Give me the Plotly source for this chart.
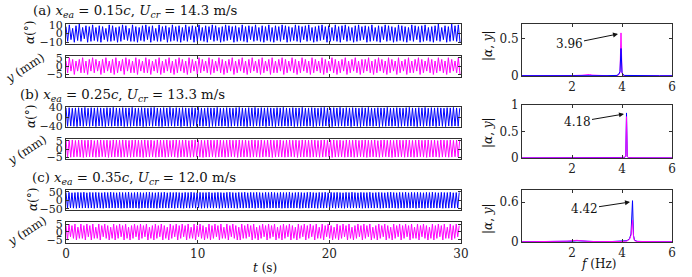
import numpy as np
import plotly.graph_objects as go

W, H = 692, 277

# ---------------- data ----------------
# flutter frequencies (Hz) read from annotations
FREQ = [3.96, 4.18, 4.42]
CASE_TITLES = ["(a)", "(b)", "(c)"]
X_EA = ["0.15", "0.25", "0.35"]
U_CR = ["14.3", "13.3", "12.0"]

# successive extremes (peaks / troughs) of the time histories
ALPHA_A = [
 8,-9,10,-7,6,-10,9,-8,11,-9,7,-6,9,-10,8,-9,10,-8,7,-9,
 9,-10,8,-7,6,-9,10,-9,9,-8,7,-10,8,-9,10,-7,9,-8,6,-9,
 10,-9,8,-10,7,-8,9,-9,10,-7,8,-10,9,-8,6,-9,10,-9,8,-7,
 9,-10,7,-9,10,-8,8,-9,9,-10,7,-8,10,-9,8,-7,9,-10,8,-9,
 10,-8,7,-9,9,-10,8,-7,10,-9,9,-8,7,-10,8,-9,10,-8,9,-7,
 8,-10,9,-9,7,-8,10,-9,8,-10,9,-7,8,-9,10,-8,7,-9,9,-10,
 8,-8,10,-9,7,-10,9,-8,8,-9,10,-7,9,-10,8,-9,7,-8,10,-9,
 9,-10,8,-7,9,-9,10,-8,7,-10,8,-9,9,-8,10,-7,8,-10,9,-9,
 7,-8,10,-9,8,-10,9,-7,10,-9,8,-8,7,-10,9,-9,10,-8,8,-7,
 9,-10,8,-9,10,-8,7,-9,9,-10,8,-7,10,-9,9,-8,8,-10,7,-9,
 10,-8,9,-9,8,-10,7,-8,10,-9,9,-7,8,-10,9,-9,10,-8,7,-9,
 8,-10,9,-8,11,-9,7,-7,9,-10,8,-9,11,-8,9,-9,10,-10
]
Y_A = [
 3,-4,5,-3,4,-5,3,-3,4,-4,5,-4,3,-5,4,-3,5,-4,4,-3,
 3,-5,4,-4,5,-3,3,-4,4,-5,5,-4,3,-3,4,-5,5,-3,4,-4,
 3,-4,5,-5,4,-3,3,-4,5,-4,4,-5,3,-3,4,-4,5,-5,3,-4,
 4,-3,5,-4,3,-5,4,-4,5,-3,4,-4,3,-5,5,-4,4,-3,3,-5,
 5,-4,4,-3,3,-4,5,-5,4,-4,3,-3,5,-4,4,-5,3,-4,4,-3,
 5,-5,3,-4,4,-3,5,-4,3,-5,4,-4,5,-3,3,-4,4,-5,5,-4,
 3,-3,4,-5,5,-4,3,-4,4,-3,5,-5,4,-4,3,-3,5,-4,4,-5,
 3,-4,5,-3,4,-4,3,-5,5,-4,4,-3,3,-4,5,-5,4,-4,3,-3,
 5,-4,4,-5,3,-4,4,-3,5,-5,3,-4,4,-3,5,-4,3,-5,4,-4,
 4,-3,5,-4,3,-5,4,-4,5,-3,4,-4,3,-5,5,-4,4,-3,3,-5,
 5,-4,3,-3,4,-5,5,-4,3,-4,4,-3,5,-5,4,-4,3,-3,5,-4,
 4,-5,3,-4,5,-3,4,-4,3,-5,5,-4,4,-3,3,-4,5,-5
]
ALPHA_B = [
 38,-39,39,-38,37,-39,38,-40,39,-38,38,-39,40,-38,37,-39,39,-38,38,-40,
 39,-38,38,-39,37,-40,39,-38,38,-39,40,-38,38,-39,37,-38,39,-40,38,-39,
 38,-39,40,-38,37,-39,38,-38,39,-40,38,-39,37,-38,39,-39,40,-38,38,-39,
 37,-40,39,-38,38,-39,40,-38,37,-39,39,-38,38,-40,39,-38,38,-39,37,-40,
 39,-38,38,-39,40,-38,38,-39,37,-38,39,-40,38,-39,38,-39,40,-38,37,-39,
 38,-38,39,-40,38,-39,37,-38,39,-39,40,-38,38,-39,37,-40,39,-38,38,-39,
 40,-38,37,-39,39,-38,38,-40,39,-38,38,-39,37,-40,39,-38,38,-39,40,-38,
 38,-39,37,-38,39,-40,38,-39,38,-39,40,-38,37,-39,38,-38,39,-40,38,-39,
 37,-38,39,-39,40,-38,38,-39,37,-40,39,-38,38,-39,40,-38,37,-39,39,-38,
 38,-40,39,-38,38,-39,37,-40,39,-38,38,-39,40,-38,38,-39,37,-38,39,-40,
 38,-39,38,-39,40,-38,37,-39,38,-38,39,-40,38,-39,37,-38,39,-39,40,-38,
 38,-39,37,-40,39,-38,38,-39,40,-38,37,-39,39,-38,38,-40,39,-38,38,-39,
 37,-40,39,-38,38,-39,40,-38,38,-39,37
]
Y_B = [
 5.5,-5,5.4,-5.1,5.6,-5,5.3,-4.8,5.5,-5,5.6,-5.2,5.4,-5,5.5,-4.9,5.6,-5,5.2,-5.1,
 5.5,-5,5.6,-4.8,5.4,-5,5.5,-5.2,5.3,-5,5.6,-5,5.5,-4.9,5.4,-5.1,5.6,-5,5.5,-5,
 5.3,-5.1,5.5,-5,5.6,-4.8,5.4,-5,5.5,-5.2,5.6,-5,5.4,-5,5.5,-4.9,5.2,-5.1,5.6,-5,
 5.5,-5,5.4,-5.1,5.6,-5,5.3,-4.8,5.5,-5,5.6,-5.2,5.4,-5,5.5,-4.9,5.6,-5,5.2,-5.1,
 5.5,-5,5.6,-4.8,5.4,-5,5.5,-5.2,5.3,-5,5.6,-5,5.5,-4.9,5.4,-5.1,5.6,-5,5.5,-5,
 5.3,-5.1,5.5,-5,5.6,-4.8,5.4,-5,5.5,-5.2,5.6,-5,5.4,-5,5.5,-4.9,5.2,-5.1,5.6,-5,
 5.5,-5,5.4,-5.1,5.6,-5,5.3,-4.8,5.5,-5,5.6,-5.2,5.4,-5,5.5,-4.9,5.6,-5,5.2,-5.1,
 5.5,-5,5.6,-4.8,5.4,-5,5.5,-5.2,5.3,-5,5.6,-5,5.5,-4.9,5.4,-5.1,5.6,-5,5.5,-5,
 5.3,-5.1,5.5,-5,5.6,-4.8,5.4,-5,5.5,-5.2,5.6,-5,5.4,-5,5.5,-4.9,5.2,-5.1,5.6,-5,
 5.5,-5,5.4,-5.1,5.6,-5,5.3,-4.8,5.5,-5,5.6,-5.2,5.4,-5,5.5,-4.9,5.6,-5,5.2,-5.1,
 5.5,-5,5.6,-4.8,5.4,-5,5.5,-5.2,5.3,-5,5.6,-5,5.5,-4.9,5.4,-5.1,5.6,-5,5.5,-5,
 5.3,-5.1,5.5,-5,5.6,-4.8,5.4,-5,5.5,-5.2,5.6,-5,5.4,-5,5.5,-4.9,5.2,-5.1,5.6,-5,
 5.5,-5,5.4,-5.1,5.6,-5,5.3,-4.8,5.5,-5,5.6
]
ALPHA_C = [
 45,-46,46,-45,44,-46,45,-47,46,-45,45,-46,47,-45,44,-46,46,-45,45,-47,
 46,-45,45,-46,44,-47,46,-45,45,-46,47,-45,45,-46,44,-45,46,-47,45,-46,
 45,-46,47,-45,44,-46,45,-45,46,-47,45,-46,44,-45,46,-46,47,-45,45,-46,
 44,-47,46,-45,45,-46,47,-45,44,-46,46,-45,45,-47,46,-45,45,-46,44,-47,
 46,-45,45,-46,47,-45,45,-46,44,-45,46,-47,45,-46,45,-46,47,-45,44,-46,
 45,-45,46,-47,45,-46,44,-45,46,-46,47,-45,45,-46,44,-47,46,-45,45,-46,
 47,-45,44,-46,46,-45,45,-47,46,-45,45,-46,44,-47,46,-45,45,-46,47,-45,
 45,-46,44,-45,46,-47,45,-46,45,-46,47,-45,44,-46,45,-45,46,-47,45,-46,
 44,-45,46,-46,47,-45,45,-46,44,-47,46,-45,45,-46,47,-45,44,-46,46,-45,
 45,-47,46,-45,45,-46,44,-47,46,-45,45,-46,47,-45,45,-46,44,-45,46,-47,
 45,-46,45,-46,47,-45,44,-46,45,-45,46,-47,45,-46,44,-45,46,-46,47,-45,
 45,-46,44,-47,46,-45,45,-46,47,-45,44,-46,46,-45,45,-47,46,-45,45,-46,
 44,-47,46,-45,45,-46,47,-45,45,-46,44,-45,46,-47,45,-46,45,-46,47,-45,
 44,-46,45,-45,46
]
Y_C = [
 4,-5,5,-3,4,-4,5,-5,3,-4,5,-4,4,-5,5,-3,4,-5,5,-4,
 3,-4,5,-5,4,-3,5,-4,4,-5,3,-4,5,-5,4,-4,5,-3,4,-5,
 5,-4,3,-5,4,-4,5,-3,4,-5,5,-4,4,-3,5,-5,3,-4,4,-5,
 5,-4,4,-3,5,-5,4,-4,3,-5,5,-4,4,-3,5,-5,4,-4,5,-3,
 4,-5,5,-4,3,-4,5,-5,4,-3,5,-4,4,-5,3,-4,5,-5,4,-4,
 5,-3,4,-5,5,-4,3,-4,5,-5,4,-3,5,-4,4,-5,3,-5,5,-4,
 4,-4,5,-3,4,-5,5,-4,3,-5,4,-4,5,-3,4,-5,5,-4,4,-3,
 5,-5,3,-4,4,-5,5,-4,4,-3,5,-5,4,-4,3,-5,5,-4,4,-3,
 5,-5,4,-4,5,-3,4,-5,5,-4,3,-4,5,-5,4,-3,5,-4,4,-5,
 3,-4,5,-5,4,-4,5,-3,4,-5,5,-4,3,-5,4,-4,5,-3,4,-5,
 5,-4,4,-3,5,-5,3,-4,4,-5,5,-4,4,-3,5,-5,4,-4,3,-5,
 5,-4,4,-3,5,-5,4,-4,5,-3,4,-5,5,-4,3,-4,5,-5,4,-3,
 5,-4,4,-5,3,-4,5,-5,4,-4,5,-3,4,-5,5,-4,3,-4,5,-5,
 4,-4,5,-3,4
]

# amplitude spectra |alpha|, |y|
F_A = [0, 0.5, 1.0, 1.5, 2.0, 2.4, 2.6, 2.7, 2.8, 3.0, 3.4, 3.8, 3.88, 3.92, 3.96, 4.0, 4.04, 4.1, 4.5, 5.0, 5.5, 6.0]
SA_ALPHA = [0.004, 0.003, 0.003, 0.003, 0.004, 0.005, 0.006, 0.006, 0.005, 0.004, 0.004, 0.008, 0.03, 0.06, 0.37, 0.05, 0.02, 0.008, 0.004, 0.003, 0.003, 0.003]
SA_Y = [0.004, 0.003, 0.003, 0.004, 0.006, 0.01, 0.015, 0.02, 0.012, 0.006, 0.004, 0.006, 0.02, 0.05, 0.58, 0.04, 0.015, 0.006, 0.003, 0.003, 0.003, 0.003]
F_B = [0, 0.5, 1.0, 1.5, 2.0, 2.4, 2.6, 2.8, 3.0, 3.5, 4.0, 4.1, 4.15, 4.18, 4.21, 4.26, 4.4, 5.0, 5.5, 6.0]
SB_ALPHA = [0.002, 0.002, 0.002, 0.002, 0.003, 0.004, 0.006, 0.005, 0.003, 0.002, 0.003, 0.01, 0.03, 0.85, 0.03, 0.008, 0.003, 0.002, 0.002, 0.002]
SB_Y = [0.002, 0.002, 0.002, 0.003, 0.004, 0.008, 0.012, 0.01, 0.004, 0.002, 0.004, 0.02, 0.03, 0.78, 0.025, 0.008, 0.003, 0.002, 0.002, 0.002]
F_C = [0, 0.5, 1.0, 1.5, 1.8, 2.0, 2.2, 2.4, 2.6, 3.0, 3.5, 4.0, 4.2, 4.3, 4.36, 4.42, 4.46, 4.5, 4.6, 5.0, 5.5, 6.0]
SC_ALPHA = [0.003, 0.003, 0.003, 0.004, 0.008, 0.012, 0.018, 0.012, 0.008, 0.005, 0.005, 0.01, 0.02, 0.05, 0.12, 0.62, 0.1, 0.03, 0.01, 0.005, 0.004, 0.003]
SC_Y = [0.003, 0.003, 0.004, 0.006, 0.012, 0.02, 0.025, 0.018, 0.01, 0.006, 0.005, 0.008, 0.015, 0.04, 0.1, 0.33, 0.08, 0.02, 0.008, 0.004, 0.003, 0.003]

ALPHA_TICKS = [[-10, 0, 10], [-40, 0, 40], [-50, 0, 50]]
ALPHA_RANGES = [[-12, 11], [-42, 42], [-57, 60]]
Y_TICKS = [-5, 0, 5]
Y_RANGES = [[-6.5, 6.0], [-6.2, 6.2], [-6.9, 6.25]]
T_TICKS = [0, 10, 20, 30]
F_TICKS = [2, 4, 6]
S_TICKS = [[0, 0.5], [0, 0.5, 1], [0, 0.6]]
S_RANGES = [[0, 0.7], [0, 1.0], [0, 0.78]]
PEAK_HEAD = [(3.84, 0.566), (4.08, 0.83), (4.32, 0.60)]

# ---------------- layout helpers ----------------
BLUE = "#0000ff"
MAG = "#ff00ff"
FRAME = "#303030"
FONT = "DejaVu Serif"

def xd(a, b):
    return [a / W, b / W]

def yd(top, bot):
    return [1 - bot / H, 1 - top / H]

LEFT_X = (66, 461)
RIGHT_X = (522, 672)
LEFT_Y = [(24, 44), (56, 77), (107, 127), (139, 159), (190, 210), (222, 243)]
RIGHT_Y = [(24, 76), (105, 158), (190, 242)]

fig = go.Figure()
layout = dict(template="none", width=W, height=H, margin=dict(l=0, r=0, t=0, b=0, pad=0),
              autosize=False,
              paper_bgcolor="white", plot_bgcolor="white", showlegend=False,
              font=dict(family=FONT, size=12, color="#222"))

def axis_common(size=12):
    return dict(showline=True, linecolor=FRAME, linewidth=1, mirror="ticks",
                ticks="inside", ticklen=3, tickwidth=1, tickcolor=FRAME,
                showgrid=False, zeroline=False, automargin=False,
                tickfont=dict(family=FONT, size=size, color="#222"))

series = [(ALPHA_A, Y_A), (ALPHA_B, Y_B), (ALPHA_C, Y_C)]
for k in range(3):
    dt = 0.5 / FREQ[k]
    for j, (vals, col) in enumerate([(series[k][0], BLUE), (series[k][1], MAG)]):
        idx = 2 * k + j + 1
        t = np.arange(len(vals)) * dt
        name = "" if idx == 1 else str(idx)
        fig.add_trace(go.Scatter(x=t, y=vals, mode="lines",
                                 line=dict(color=col, width=1),
                                 xaxis="x" + name, yaxis="y" + name))
        xa = axis_common(12)
        xa.update(domain=xd(*LEFT_X), range=[0, 30], tickvals=T_TICKS,
                  showticklabels=(idx == 6), anchor="y" + name)
        ya = axis_common(11)
        if j == 0:
            ya.update(range=ALPHA_RANGES[k], tickvals=ALPHA_TICKS[k])
        else:
            ya.update(range=Y_RANGES[k], tickvals=Y_TICKS)
        ya.update(domain=yd(*LEFT_Y[2 * k + j]), anchor="x" + name)
        layout["xaxis" + name] = xa
        layout["yaxis" + name] = ya

spectra = [(F_A, SA_ALPHA, SA_Y), (F_B, SB_ALPHA, SB_Y), (F_C, SC_ALPHA, SC_Y)]
for k in range(3):
    idx = 7 + k
    name = str(idx)
    f, sa, sy = spectra[k]
    order = [(sy, MAG), (sa, BLUE)] if k == 0 else [(sa, BLUE), (sy, MAG)]
    for vals, col in order:
        fig.add_trace(go.Scatter(x=f, y=vals, mode="lines",
                                 line=dict(color=col, width=1),
                                 xaxis="x" + name, yaxis="y" + name))
    xa = axis_common(12)
    xa.update(domain=xd(*RIGHT_X), range=[0, 6], tickvals=F_TICKS, anchor="y" + name)
    ya = axis_common(12)
    ya.update(domain=yd(*RIGHT_Y[k]), range=S_RANGES[k], tickvals=S_TICKS[k],
              anchor="x" + name)
    layout["xaxis" + name] = xa
    layout["yaxis" + name] = ya

fig.update_layout(**layout)

ann = []
def px_ann(text, x, y, size=12, angle=0, xanchor="center"):
    ann.append(dict(text=text, x=x / W, y=1 - y / H, xref="paper", yref="paper",
                    showarrow=False, textangle=angle, xanchor=xanchor, yanchor="middle",
                    borderpad=0,
                    font=dict(family=FONT, size=size, color="#111")))

title_pos = [(135, 11), (122, 95), (134, 178)]
for k in range(3):
    txt = (f"{CASE_TITLES[k]} <i>x</i><sub><i>ea</i></sub> = {X_EA[k]}<i>c</i>, "
           f"<i>U</i><sub><i>cr</i></sub> = {U_CR[k]} m/s")
    px_ann(txt, title_pos[k][0], title_pos[k][1], size=13.3)

alpha_lab = [(30, 33), (31, 117), (33, 200)]
y_lab = [(25, 68), (27, 150), (27, 231)]
spec_lab = [(488, 46), (488, 133), (488, 219)]
for k in range(3):
    px_ann("<i>α</i>(°)", alpha_lab[k][0], alpha_lab[k][1], size=12, angle=-90)
    px_ann("<i>y</i> (mm)", y_lab[k][0], y_lab[k][1], size=12, angle=-33)
    px_ann("|<i>α</i>, <i>y</i>|", spec_lab[k][0], spec_lab[k][1], size=12, angle=-90)

px_ann("<i>t</i> (s)", 265, 268, size=12)
px_ann("<i>f</i> (Hz)", 598, 264, size=12)

offsets = [(-49, 10), (-47, 8), (-46, 7)]
for k in range(3):
    name = str(7 + k)
    ann.append(dict(text=f"{FREQ[k]:.2f}", x=PEAK_HEAD[k][0], y=PEAK_HEAD[k][1],
                    xref="x" + name, yref="y" + name, showarrow=True,
                    ax=offsets[k][0], ay=offsets[k][1], arrowhead=2, arrowsize=1,
                    arrowwidth=1, arrowcolor="#111",
                    font=dict(family=FONT, size=12, color="#111")))

fig.update_layout(annotations=ann)
fig.write_html("out.html", config={"displayModeBar": False},
               post_script="document.body.style.margin='0px';document.body.style.padding='0px';")
